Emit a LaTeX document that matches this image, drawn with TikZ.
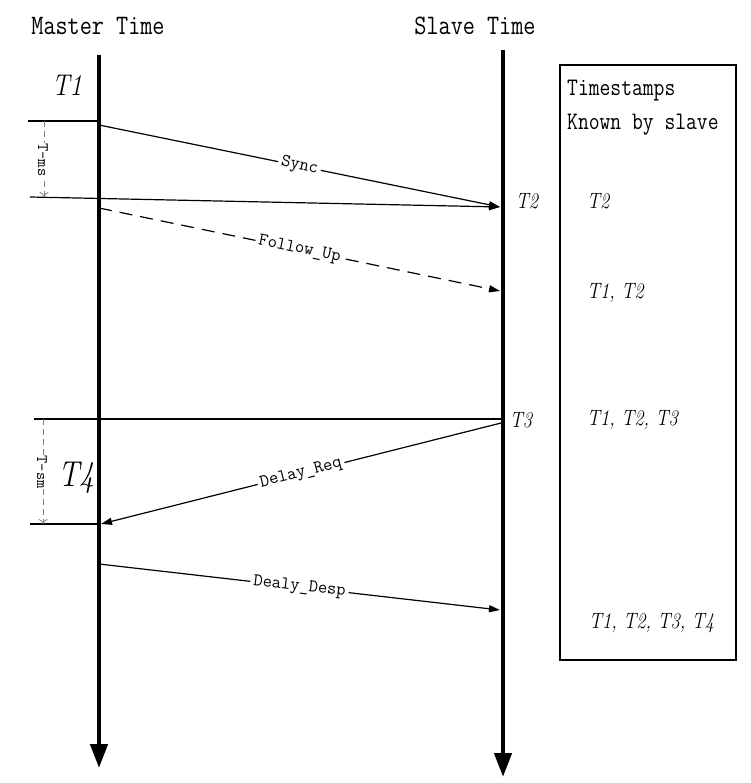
\documentclass[tikz,border=0pt]{standalone}
\usepackage{fontspec}
\usetikzlibrary{arrows.meta}
\tikzset{
  timeline/.style={black,line width=4.5pt,-{Triangle[length=24pt,width=17pt]}},
  msg/.style={black,line width=1.2pt,-{Triangle[length=11pt,width=7pt]}},
  refline/.style={black,line width=1.2pt},
  gapline/.style={gray,line width=0.8pt,dash pattern=on 6pt off 4pt,-{To[length=5pt,width=9pt]}},
  msglabel/.style={midway,sloped,fill=white,inner sep=3pt,font=\ttfamily\fontsize{18}{20}\selectfont},
  gaplabel/.style={rotate=-90,fill=white,inner sep=1pt,font=\ttfamily\fontsize{16}{18}\selectfont},
  tall/.style={yscale=1.2,transform shape},
  stamp/.style={tall,font=\itshape\fontsize{18.5}{22}\selectfont},
  headtext/.style={tall,font=\ttfamily\fontsize{23.5}{26}\selectfont},
}
\begin{document}
\begin{tikzpicture}[x=1pt,y=-1pt]
   \useasboundingbox (0,0) rectangle (750,783);
   % time axes
   \coordinate (mtop) at (99,55);
   \coordinate (mbot) at (99,768);
   \coordinate (stop) at (503,50);
   \coordinate (sbot) at (503,777);
   \draw [timeline] (mtop) -- (mbot);
   \draw [timeline] (stop) -- (sbot);
   \node [headtext] (mhead) at (98,26) {Master Time};
   \node [headtext] (shead) at (475,26) {Slave Time};
   % Sync
   \coordinate (tone) at (28,121);
   \coordinate (mone) at (99,121);
   \coordinate (msync) at (99,125);
   \coordinate (ssync) at (500,207);
   \coordinate (tmsa) at (30,197);
   \draw [refline] (tone) -- (mone);
   \draw [msg] (msync) -- (ssync) node [msglabel] {Sync};
   \draw [msg] (tmsa) -- (ssync);
   \draw [gapline] (44,121) -- (44,197);
   \node [gaplabel] (tms) at (43,160) {T-ms};
   % Follow_Up
   \coordinate (mfol) at (99,208);
   \coordinate (sfol) at (500,291);
   \draw [msg,dash pattern=on 13pt off 8pt] (mfol) -- (sfol) node [msglabel] {Follow\_Up};
   % Delay_Req
   \coordinate (tthree) at (34,419);
   \coordinate (sthree) at (501,419);
   \coordinate (sreq) at (501,423);
   \coordinate (mreq) at (101,524);
   \coordinate (tfour) at (30,524);
   \draw [refline] (tthree) -- (sthree);
   \draw [msg] (sreq) -- (mreq) node [msglabel] {Delay\_Req};
   \draw [refline] (tfour) -- (99,524);
   \draw [gapline] (43,419) -- (43,524);
   \node [gaplabel] (tsm) at (42,472) {T-sm};
   % Dealy_Desp
   \coordinate (mdesp) at (99,564);
   \coordinate (sdesp) at (500,610);
   \draw [msg] (mdesp) -- (sdesp) node [msglabel] {Dealy\_Desp};
   % timestamp labels
   \node [tall,font=\itshape\fontsize{25}{28}\selectfont] (lone) at (67,85) {T1};
   \node [tall,font=\itshape\fontsize{30}{32}\selectfont] (lfour) at (76,478) {T4};
   \node [stamp] (ltwo) at (527,201) {T2};
   \node [stamp] (lthree) at (521,420) {T3};
   % box of known timestamps
   \draw [line width=1.2pt] (560,65) rectangle (736,660);
   \node [tall,anchor=north west,align=left,inner sep=0pt,font=\ttfamily\fontsize{21}{28}\selectfont] (boxhead) at (567,80) {Timestamps\\Known by slave};
   \node [stamp,anchor=west,inner sep=0pt] (kone) at (587,201) {T2};
   \node [stamp,anchor=west,inner sep=0pt] (ktwo) at (587,293) {T1, T2};
   \node [stamp,anchor=west,inner sep=0pt] (kthree) at (587,420) {T1, T2, T3};
   \node [stamp,anchor=west,inner sep=0pt] (kfour) at (589,623) {T1, T2, T3, T4};
\end{tikzpicture}
\end{document}
